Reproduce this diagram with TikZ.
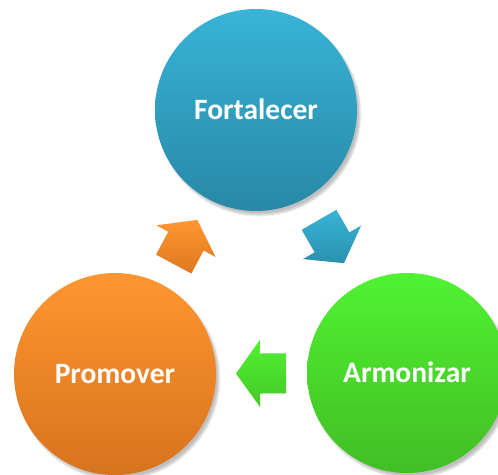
\documentclass[tikz,border=0pt]{standalone}
\usepackage{fontspec}
\setmainfont{Carlito}
\usetikzlibrary{calc,shadows.blur}
\definecolor{bluetop}{HTML}{38B4D6}
\definecolor{bluebot}{HTML}{2888A6}
\definecolor{orangetop}{HTML}{FF9630}
\definecolor{orangebot}{HTML}{D8731E}
\definecolor{greentop}{HTML}{50F232}
\definecolor{greenbot}{HTML}{42BE24}
\tikzset{
  circ/.style={circle, minimum size=202pt, inner sep=0pt,
    text=white, font=\fontsize{29.5}{34}\selectfont\bfseries,
    text height=19pt, text depth=0pt,
    blur shadow={shadow xshift=3pt, shadow yshift=-4pt, shadow opacity=25, shadow blur steps=10}},
  arrshadow/.style={fill=black, opacity=0.12},
}
% block arrow from circle #1 toward circle #2, colours #3/#4
\newcommand\blockarr[4]{%
  \coordinate (M) at ($(#1.center)!0.5!(#2.center)$);
  \coordinate (T) at ($(M)!25pt!(#2.center)$);
  \coordinate (B) at ($(M)!-25pt!(#2.center)$);
  \coordinate (H) at ($(M)!1pt!(#2.center)$);
  \path[arrshadow, shift={(2pt,3pt)}]
    ($(B)!20pt!90:(T)$) -- ($(H)!20pt!90:(T)$) -- ($(H)!33.5pt!90:(T)$) -- (T)
    -- ($(H)!33.5pt!-90:(T)$) -- ($(H)!20pt!-90:(T)$) -- ($(B)!20pt!-90:(T)$) -- cycle;
  \shade[top color=#3, bottom color=#4]
    ($(B)!20pt!90:(T)$) -- ($(H)!20pt!90:(T)$) -- ($(H)!33.5pt!90:(T)$) -- (T)
    -- ($(H)!33.5pt!-90:(T)$) -- ($(H)!20pt!-90:(T)$) -- ($(B)!20pt!-90:(T)$) -- cycle;
}
\begin{document}
\begin{tikzpicture}[x=1pt,y=-1pt]
\useasboundingbox (0,0) rectangle (498,474);
\clip (0,0) rectangle (498,474);
\node[circ, top color=bluetop, bottom color=bluebot] (F) at (256,110) {Fortalecer};
\node[circ, top color=orangetop, bottom color=orangebot] (P) at (115,374) {Promover};
\node[circ, top color=greentop, bottom color=greenbot, minimum size=200pt] (A) at (407,373) {Armonizar};
\blockarr{P}{F}{orangetop}{orangebot!85!orangetop}
\blockarr{F}{A}{bluetop}{bluebot!80!bluetop}
\blockarr{A}{P}{greentop}{greenbot!80!greentop}
\end{tikzpicture}
\end{document}
